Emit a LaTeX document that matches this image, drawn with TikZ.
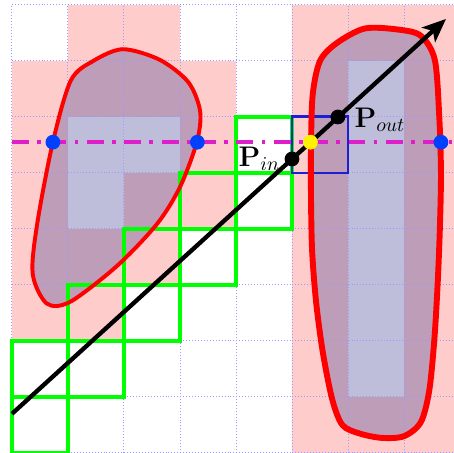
\documentclass[tikz,border=0pt]{standalone}
\usetikzlibrary{arrows.meta}

\definecolor{cellpink}{RGB}{255,204,204}
\definecolor{blobfill}{RGB}{70,70,150}
\definecolor{scanmag}{RGB}{222,30,200}
\definecolor{hitblue}{RGB}{0,64,255}
\definecolor{boxblue}{RGB}{30,30,210}

\def\leftblob{plot[smooth cycle] coordinates {(1.05,6.65) (1.45,7.0) (1.98,7.21) (2.64,7.02) (3.15,6.62) (3.36,6.1) (3.30,5.55) (3.0,4.75) (2.59,4.09) (1.875,3.34) (1.04,2.70) (0.62,2.67) (0.37,3.2) (0.45,4.09) (0.73,5.55)}}
\def\rightblob{plot[smooth cycle] coordinates {(7.55,7.02) (7.63,6.0) (7.66,5.0) (7.64,4.0) (7.6,3.0) (7.54,2.0) (7.45,1.11) (7.3,0.55) (7.0,0.3) (6.6,0.27) (6.2,0.35) (5.9,0.5) (5.72,0.95) (5.55,1.8) (5.43,2.7) (5.36,3.6) (5.34,4.5) (5.34,5.5) (5.37,6.4) (5.5,7.0) (5.8,7.32) (6.3,7.58) (6.9,7.56) (7.3,7.45)}}

\begin{document}
\begin{tikzpicture}[x=1cm, y=1cm,
    blob/.style={fill=blobfill, fill opacity=0.35, draw=none},
    visited/.style={draw=green, line width=2pt},
    hit/.style={circle, fill=hitblue, inner sep=0pt, minimum size=7.5pt},
    ptdot/.style={circle, fill=black, inner sep=0pt, minimum size=7.5pt}]
    \useasboundingbox (-0.214,0) rectangle (7.893,8.089);

    % boundary cells
    \foreach \c/\r in {1/7,2/7,0/6,1/6,2/6,3/6,0/5,3/5,0/4,2/4,3/4,0/3,1/3,2/3,0/2,1/2}
        \fill[cellpink] (\c,\r) rectangle ++(1,1);
    \foreach \r in {0,...,7}
        \fill[cellpink] (5,\r) rectangle ++(1,1) (7,\r) rectangle ++(1,1);
    \fill[cellpink] (6,0) rectangle ++(1,1) (6,7) rectangle ++(1,1);

    % objects
    \path[blob] \leftblob;
    \path[blob] \rightblob;
    \draw[blue!40, densely dotted, line width=0.5pt] (0,0) grid (8,8);

    % traversed cells
    \foreach \c/\r in {0/0,0/1,1/1,1/2,2/2,2/3,3/3,3/4,4/4,4/5}
        \draw[visited] (\c,\r) rectangle ++(1,1);
    \draw[boxblue, line width=1.5pt] (5,5) rectangle (6,6);

    \draw[red, line width=2pt] \leftblob;
    \draw[red, line width=3pt] \rightblob;

    % scan line
    \coordinate (sl) at (0,5.55);
    \coordinate (sr) at (8,5.55);
    \draw[scanmag, line width=2pt, dash pattern=on 8.6pt off 4.2pt on 1.8pt off 4.4pt] (sl) -- (sr);

    % ray
    \coordinate (rs) at (0,0.70);
    \coordinate (re) at (7.75,7.75);
    \draw[line width=2.2pt, -{Stealth[length=12pt, width=10pt, inset=3pt]}] (rs) -- (re);

    \node[hit] (h1) at (0.73,5.55) {};
    \node[hit] (h2) at (3.31,5.55) {};
    \node[hit] (h3) at (7.66,5.55) {};
    \node[circle, fill=yellow, inner sep=0pt, minimum size=7.5pt] (cross) at (5.33,5.55) {};
    \node[ptdot, label={[font=\Large, inner sep=2pt]left:$\mathbf{P}_{in}$}] (pin) at (5,5.25) {};
    \node[ptdot, label={[font=\Large, yshift=-1.5pt, label distance=1pt]right:$\mathbf{P}_{out}$}] (pout) at (5.82,6) {};
\end{tikzpicture}
\end{document}
